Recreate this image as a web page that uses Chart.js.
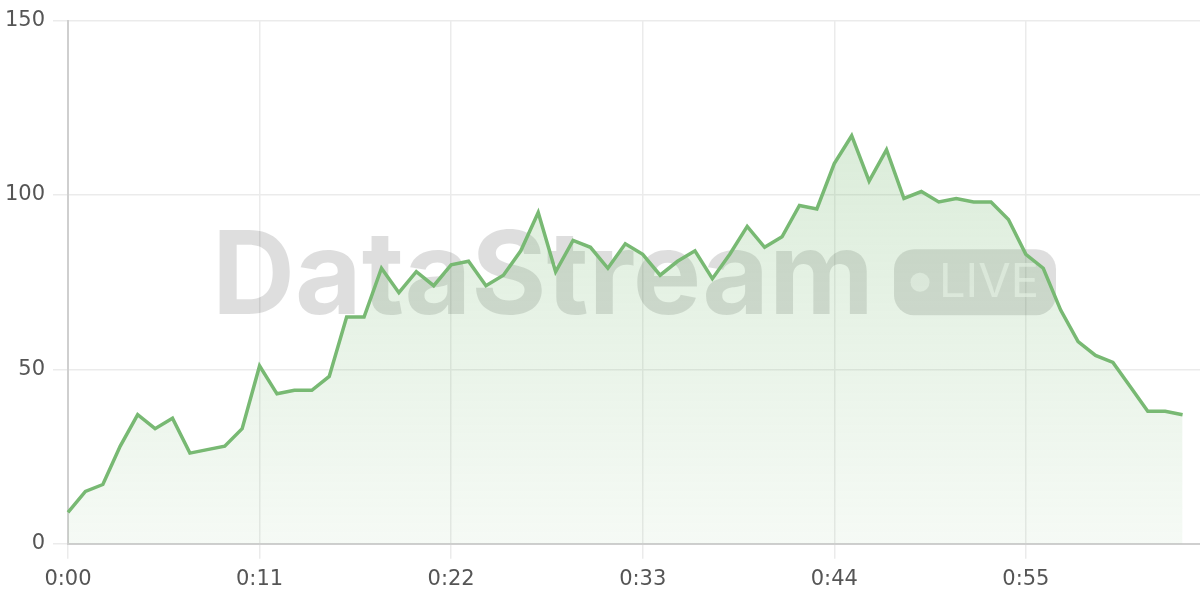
<!DOCTYPE html>
<html>
<head>
<meta charset="utf-8">
<script src="https://cdn.jsdelivr.net/npm/chart.js@4/dist/chart.umd.min.js"></script>
<style>
  html, body { margin: 0; padding: 0; background: #fff; }
  #wrap { width: 1200px; height: 600px; }
</style>
</head>
<body>
<div id="wrap"><canvas id="stream"></canvas></div>
<script>
// seconds on the x axis (one extra slot at the end, still empty)
const seconds = [];
for (let s = 0; s <= 65; s++) seconds.push(s);
const timeLabels = seconds.map(s => Math.floor(s / 60) + ':' + String(s % 60).padStart(2, '0'));

const streamValues = [
  9, 15, 17, 28, 37, 33, 36, 26, 27, 28,
  33, 51, 43, 44, 44, 48, 65, 65, 79, 72,
  78, 74, 80, 81, 74, 77, 84, 95, 78, 87,
  85, 79, 86, 83, 77, 81, 84, 76, 83, 91,
  85, 88, 97, 96, 109, 117, 104, 113, 99, 101,
  98, 99, 98, 98, 93, 83, 79, 67, 58, 54,
  52, 45, 38, 38, 37
];

const yTicks = [0, 50, 100, 150];
const labelEvery = 11;

const FONT = '"DejaVu Sans", sans-serif';
const MARK_FONT = 'Inter, "Noto Sans", sans-serif';

// big faded "DataStream  ● LIVE" mark behind the data
const watermark = {
  id: 'watermark',
  beforeDatasetsDraw(chart) {
    const { ctx, chartArea: a } = chart;
    const cx = (a.left + a.right) / 2;
    const cy = (a.top + a.bottom) / 2;
    ctx.save();
    ctx.font = 'bold 115px ' + MARK_FONT;
    const word = 'DataStream';
    const tw = ctx.measureText(word).width;
    const pillW = 162, pillH = 66, gap = 20;
    const total = tw + gap + pillW;
    const x0 = cx - total / 2;
    ctx.fillStyle = 'rgba(0,0,0,0.13)';
    ctx.textBaseline = 'alphabetic';
    ctx.fillText(word, x0, cy + 32);
    // pill
    const px = x0 + tw + gap, py = cy - 33;
    ctx.beginPath();
    ctx.roundRect(px, py, pillW, pillH, 20);
    ctx.fill();
    ctx.fillStyle = 'rgba(255,255,255,0.62)';
    ctx.beginPath();
    ctx.arc(px + 26, cy, 9.5, 0, Math.PI * 2);
    ctx.fill();
    ctx.font = '47px ' + MARK_FONT;
    ctx.textBaseline = 'middle';
    ctx.fillText('LIVE', px + 45, cy + 1);
    ctx.restore();
  }
};

const ctx = document.getElementById('stream');

new Chart(ctx, {
  type: 'line',
  data: {
    labels: timeLabels,
    datasets: [{
      data: streamValues,
      borderColor: '#78b973',
      borderWidth: 3.5,
      tension: 0,
      pointRadius: 0,
      fill: 'origin',
      backgroundColor: (c) => {
        const a = c.chart.chartArea;
        if (!a) return 'rgba(120,185,115,0.15)';
        const g = c.chart.ctx.createLinearGradient(0, a.top, 0, a.bottom);
        g.addColorStop(0, 'rgba(120,185,115,0.32)');
        g.addColorStop(1, 'rgba(120,185,115,0.07)');
        return g;
      }
    }]
  },
  options: {
    responsive: true,
    maintainAspectRatio: false,
    animation: false,
    layout: { padding: { top: 8, right: 0, bottom: 0, left: 0 } },
    plugins: {
      legend: { display: false },
      tooltip: { enabled: false }
    },
    scales: {
      x: {
        grid: { color: '#ebebeb', lineWidth: 1.5, tickLength: 15 },
        border: { color: '#cfcfcf', width: 2 },
        ticks: {
          autoSkip: false,
          maxRotation: 0,
          padding: 8,
          color: '#555',
          font: { family: FONT, size: 21 },
          callback: function (v, i) {
            return i % labelEvery === 0 && i < streamValues.length ? this.getLabelForValue(v) : null;
          }
        }
      },
      y: {
        min: yTicks[0],
        max: yTicks[yTicks.length - 1],
        grid: { color: '#ebebeb', lineWidth: 1.5, tickLength: 15 },
        border: { color: '#cfcfcf', width: 2 },
        afterBuildTicks: (scale) => { scale.ticks = yTicks.map(v => ({ value: v })); },
        afterFit: (scale) => { scale.width = 68; },
        ticks: {
          padding: 8,
          color: '#555',
          font: { family: FONT, size: 21 }
        }
      }
    }
  },
  plugins: [watermark]
});
</script>
</body>
</html>
